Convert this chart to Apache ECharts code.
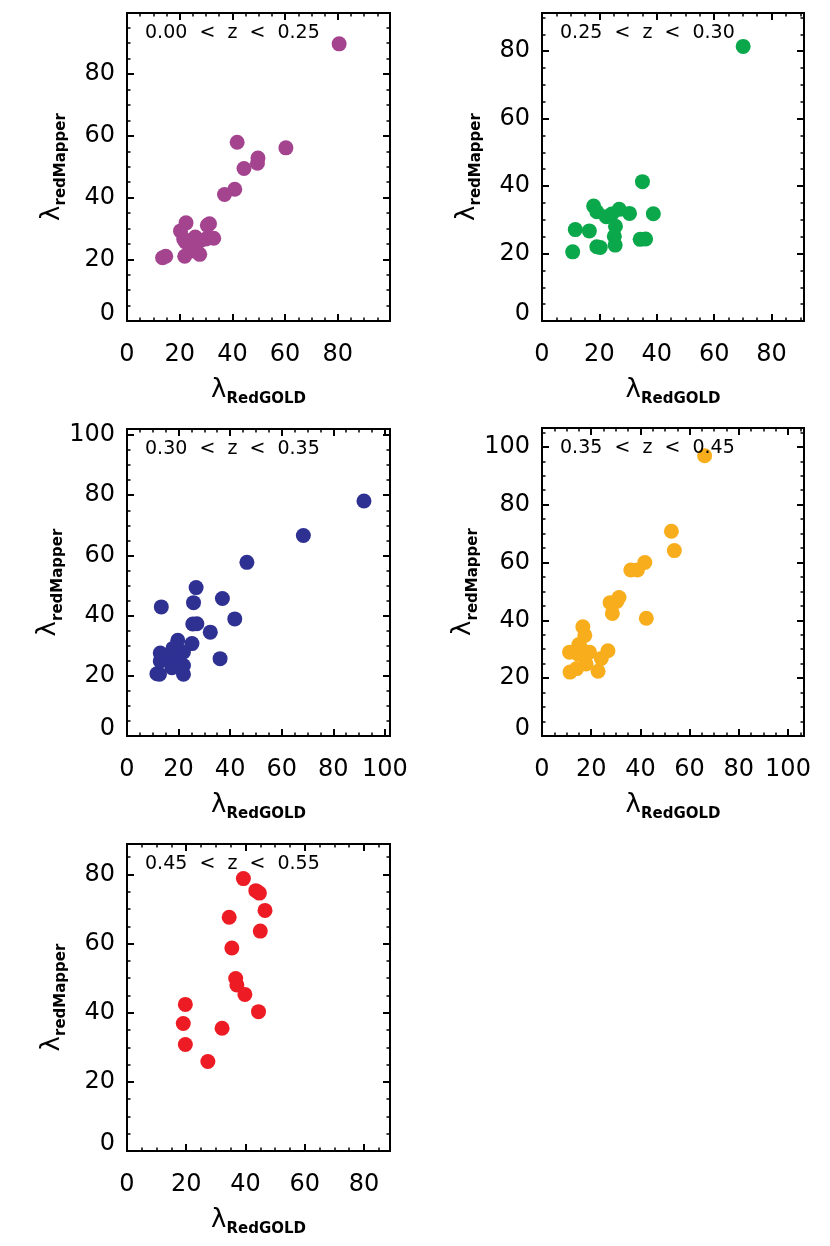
<!DOCTYPE html>
<html>
<head>
<meta charset="utf-8">
<script src="https://cdn.jsdelivr.net/npm/echarts@6/dist/echarts.min.js"></script>
<style>
  html, body { margin: 0; padding: 0; background: #fff; }
  #chart { width: 830px; height: 1246px; }
</style>
</head>
<body>
<div id="chart"></div>
<script>
// redshift bins
var zLabels = ['0.00  <  z  <  0.25', '0.25  <  z  <  0.30', '0.30  <  z  <  0.35', '0.35  <  z  <  0.45', '0.45  <  z  <  0.55'];
var binColors = ['#a4448f', '#0ba74b', '#2e3192', '#f8ae1c', '#ed1c24'];

// lambda RedGOLD (x) and lambda redMapper (y) per bin
var redgold1 = [80.5, 41.8, 60.3, 49.7, 49.5, 44.4, 40.9, 37.0, 22.4, 31.3, 30.5, 20.3, 21.5, 22.2, 25.9, 27.6, 30.0, 32.9, 25.3, 27.6, 21.9, 13.5, 14.7];
var redmapper1 = [89.8, 57.9, 56.1, 52.8, 51.1, 49.4, 42.7, 41.0, 31.8, 31.5, 31.0, 29.2, 26.6, 25.6, 27.2, 25.9, 26.6, 26.8, 22.7, 21.6, 21.0, 20.5, 21.0];

var redgold2 = [70.1, 35.0, 18.0, 19.1, 22.4, 24.3, 26.9, 30.5, 38.8, 11.6, 16.5, 25.6, 25.2, 25.5, 34.2, 36.1, 19.1, 20.3, 10.7];
var redmapper2 = [81.4, 41.3, 34.1, 32.4, 30.9, 31.7, 33.1, 31.9, 31.8, 27.1, 26.7, 28.1, 25.1, 22.5, 24.2, 24.3, 22.0, 21.8, 20.5];

var redgold3 = [91.9, 68.4, 46.5, 26.8, 37.0, 25.8, 13.3, 41.8, 25.5, 27.1, 32.3, 19.7, 25.2, 21.9, 17.8, 12.9, 36.1, 12.9, 15.2, 18.1, 17.4, 19.4, 21.9, 11.6, 12.6, 21.9, 20.0];
var redmapper3 = [78.1, 66.6, 57.7, 49.3, 45.7, 44.3, 42.9, 38.9, 37.2, 37.3, 34.5, 31.8, 30.7, 27.9, 29.1, 27.6, 25.7, 24.9, 26.0, 25.3, 22.7, 23.8, 23.4, 20.7, 20.5, 20.5, 23.0];

var redgold4 = [66.1, 52.6, 53.8, 41.8, 36.1, 38.8, 31.3, 27.7, 30.4, 28.6, 42.4, 16.6, 17.4, 15.0, 11.2, 14.6, 19.3, 26.8, 24.1, 17.9, 14.1, 11.4, 22.8, 15.7];
var redmapper4 = [96.9, 70.8, 64.1, 60.0, 57.4, 57.4, 47.9, 46.1, 46.5, 42.4, 40.7, 37.8, 34.8, 31.6, 29.0, 28.4, 29.0, 29.5, 26.8, 24.9, 23.3, 22.1, 22.4, 30.5];

var redgold5 = [39.3, 43.5, 44.7, 46.6, 34.5, 45.0, 35.4, 36.7, 37.1, 39.8, 19.7, 44.4, 19.0, 32.1, 19.7, 27.3];
var redmapper5 = [78.8, 75.3, 74.6, 69.6, 67.6, 63.6, 58.7, 49.9, 48.0, 45.3, 42.4, 40.3, 36.9, 35.5, 30.8, 25.9];

var xs = [redgold1, redgold2, redgold3, redgold4, redgold5];
var ys = [redmapper1, redmapper2, redmapper3, redmapper4, redmapper5];
var axisMax = [99.8, 91.3, 102, 106.5, 88.8];

var grids = [
    { left: 127, top: 13, width: 263, height: 308 },
    { left: 542, top: 13, width: 262, height: 308 },
    { left: 127, top: 429, width: 263, height: 307 },
    { left: 542, top: 428, width: 262, height: 308 },
    { left: 127, top: 844, width: 263, height: 307 }
];

var font = 'DejaVu Sans';

function nameStyle() {
    return {
        color: '#000',
        fontFamily: font,
        rich: {
            l: { fontSize: 26, lineHeight: 34, fontFamily: font, color: '#000' },
            s: { fontSize: 15, fontWeight: 'bold', lineHeight: 15, verticalAlign: 'bottom', fontFamily: font, color: '#000' }
        }
    };
}

function makeAxis(dim, i, pos, step, len, main) {
    var ax = {
        type: 'value',
        gridIndex: i,
        position: pos,
        min: 0,
        max: axisMax[i],
        interval: step,
        axisLine: { show: false, onZero: false },
        splitLine: { show: false },
        axisTick: { show: true, inside: true, length: len, lineStyle: { color: '#000', width: main ? 2 : 1.5 } },
        axisLabel: { show: false }
    };
    if (main && (pos === 'bottom' || pos === 'left')) {
        ax.axisLabel = {
            show: true,
            showMaxLabel: false,
            color: '#000',
            fontFamily: font,
            fontSize: 24,
            margin: dim === 'x' ? 22 : 12,
            formatter: function (v) {
                if (dim === 'y' && v === 0) return '{z|0}';
                return String(v);
            },
            rich: { z: { fontSize: 24, fontFamily: font, color: '#000', padding: [0, 0, 14, 0] } }
        };
        ax.nameLocation = 'middle';
        ax.nameTextStyle = nameStyle();
        if (dim === 'x') {
            ax.name = '{l|λ}{s|RedGOLD}';
            ax.nameGap = 52;
        } else {
            ax.name = '{l|λ}{s|redMapper}';
            ax.nameGap = 58;
        }
    }
    return ax;
}

var xAxes = [], yAxes = [], series = [], graphics = [];
for (var i = 0; i < 5; i++) {
    xAxes.push(makeAxis('x', i, 'bottom', 20, 7, true));
    xAxes.push(makeAxis('x', i, 'bottom', 5, 3.5, false));
    xAxes.push(makeAxis('x', i, 'top', 20, 7, true));
    xAxes.push(makeAxis('x', i, 'top', 5, 3.5, false));
    yAxes.push(makeAxis('y', i, 'left', 20, 7, true));
    yAxes.push(makeAxis('y', i, 'left', 5, 3.5, false));
    yAxes.push(makeAxis('y', i, 'right', 20, 7, true));
    yAxes.push(makeAxis('y', i, 'right', 5, 3.5, false));

    var pts = xs[i].map(function (x, k) { return [x, ys[i][k]]; });
    series.push({
        type: 'scatter',
        xAxisIndex: i * 4,
        yAxisIndex: i * 4,
        symbolSize: 15,
        itemStyle: { color: binColors[i], opacity: 1 },
        data: pts
    });

    graphics.push({
        type: 'text',
        z: 100,
        x: grids[i].left + 18,
        y: grids[i].top + 20,
        style: { text: zLabels[i], fontFamily: font, fontSize: 19, fill: '#000', verticalAlign: 'middle' }
    });
}

var chart = echarts.init(document.getElementById('chart'));
chart.setOption({
    animation: false,
    backgroundColor: '#fff',
    grid: grids.map(function (g) {
        return { left: g.left, top: g.top, width: g.width, height: g.height, show: true, borderColor: '#000', borderWidth: 2, backgroundColor: 'transparent' };
    }),
    xAxis: xAxes,
    yAxis: yAxes,
    series: series,
    graphic: graphics
});
</script>
</body>
</html>
